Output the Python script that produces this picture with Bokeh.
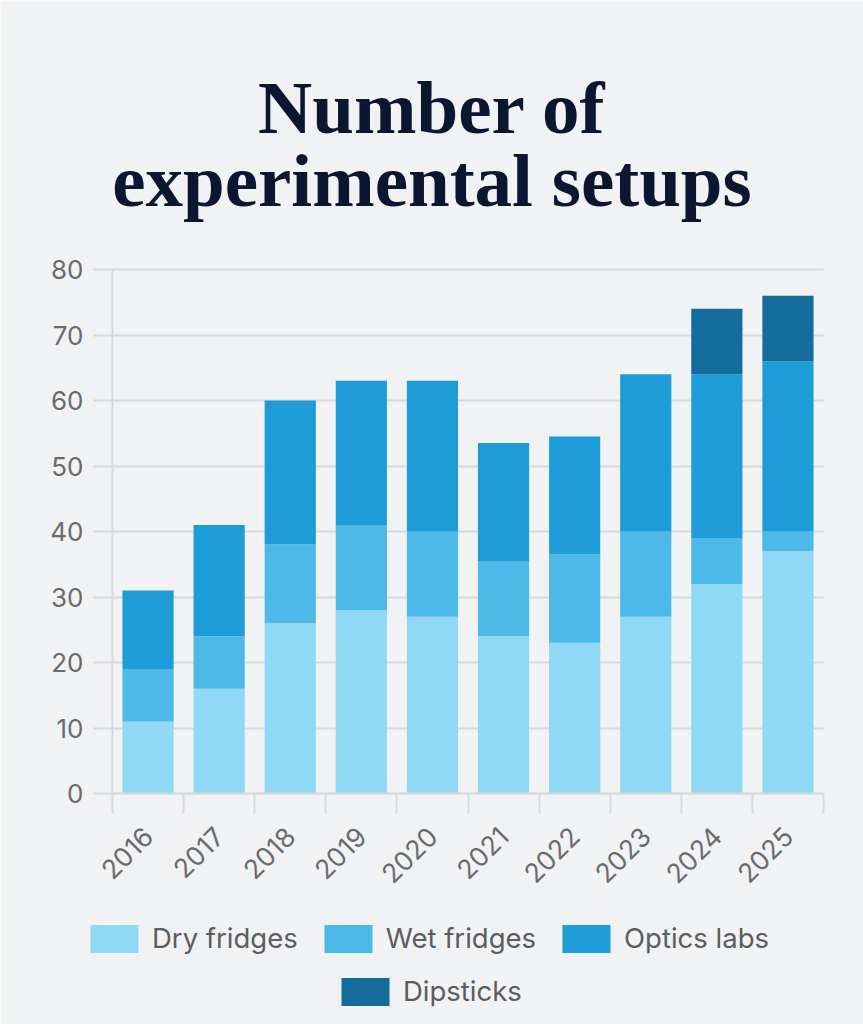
import math
from bokeh.plotting import figure
from bokeh.models import (ColumnDataSource, Range1d, FixedTicker, Label, Legend, LegendItem)
from bokeh.embed import file_html
from bokeh.resources import INLINE

years = ["2016", "2017", "2018", "2019", "2020", "2021", "2022", "2023", "2024", "2025"]
dry_fridges = [11, 16, 26, 28, 27, 24, 23, 27, 32, 37]
wet_fridges = [8, 8, 12, 13, 13, 11.5, 13.5, 13, 7, 3]
optics_labs = [12, 17, 22, 22, 23, 18, 18, 24, 25, 26]
dipsticks = [0, 0, 0, 0, 0, 0, 0, 0, 10, 10]
series_names = ["Dry fridges", "Wet fridges", "Optics labs", "Dipsticks"]
title_lines = ["Number of", "experimental setups"]
colors = ["#8fd8f6", "#4cb9e8", "#1e9cd8", "#136c9b"]
y_ticks = [0, 10, 20, 30, 40, 50, 60, 70, 80]

BG = "#f1f2f4"
GRID = "#d8d9dc"
LABEL = "#6a6b6d"
FONT = "Inter"
W, H = 863, 1024
# chart area in page pixels
PLOT_L, PLOT_R, PLOT_T, PLOT_B = 112, 823, 269, 793
YMAX = 80
n = len(years)

dx = (PLOT_R - PLOT_L) / n          # px per category
dy = (PLOT_B - PLOT_T) / YMAX       # px per unit
x_range = Range1d(-PLOT_L / dx, n + (W - PLOT_R) / dx)
y_range = Range1d(-(H - PLOT_B) / dy, YMAX + PLOT_T / dy)


def px_x(px):
    return (px - PLOT_L) / dx


def px_y(py):
    return (PLOT_B - py) / dy


xc = [i + 0.5 for i in range(n)]
source = ColumnDataSource(dict(x=xc, dry=dry_fridges, wet=wet_fridges,
                               optics=optics_labs, dip=dipsticks))

p = figure(width=W, height=H, x_range=x_range, y_range=y_range,
           output_backend="svg", toolbar_location=None, title=None, min_border=0)
p.background_fill_color = BG
p.border_fill_color = BG
p.outline_line_color = None
p.grid.visible = False

rs = p.vbar_stack(["dry", "wet", "optics", "dip"], x="x", width=0.72,
                  color=colors, line_width=0, source=source)

# y axis: pinned at x=0; its major ticks run across the chart as grid lines
ya = p.yaxis[0]
ya.fixed_location = 0
ya.bounds = (0, YMAX)
ya.level = "underlay"
ya.ticker = FixedTicker(ticks=y_ticks)
ya.axis_line_color = GRID
ya.axis_line_width = 2
ya.major_tick_line_color = GRID
ya.major_tick_line_width = 2
ya.major_tick_out = 19
ya.major_tick_in = PLOT_R - PLOT_L
ya.minor_tick_line_color = None
ya.major_label_standoff = 10
ya.major_label_text_font = FONT
ya.major_label_text_font_size = "26px"
ya.major_label_text_color = LABEL

# x axis: pinned at y=0; labels at category centres, minor ticks at boundaries
xa = p.xaxis[0]
xa.fixed_location = 0
xa.bounds = (0, n)
xa.ticker = FixedTicker(ticks=xc, minor_ticks=list(range(n + 1)))
xa.major_label_overrides = {v: y for v, y in zip(xc, years)}
xa.axis_line_color = GRID
xa.axis_line_width = 2
xa.major_tick_line_color = None
xa.major_tick_out = 0
xa.major_tick_in = 0
xa.minor_tick_line_color = GRID
xa.minor_tick_line_width = 2
xa.minor_tick_out = 20
xa.minor_tick_in = 0
xa.major_label_orientation = math.pi / 4
xa.major_label_standoff = 18
xa.major_label_text_font = FONT
xa.major_label_text_font_size = "26.5px"
xa.major_label_text_color = LABEL

# title
for txt, base in zip(title_lines, [107, 180]):
    p.add_layout(Label(x=px_x(W / 2), y=px_y(base), text=txt,
                       text_align="center", text_baseline="alphabetic",
                       text_font="Liberation Serif", text_font_style="bold",
                       text_font_size="75px", text_color="#0b1631"))

# legend: area glyphs are drawn inset by 10% of the glyph box
SW_W, SW_H = 48, 28
GW, GH = SW_W / 0.8, SW_H / 0.8
INX, INY = (GW - SW_W) / 2, (GH - SW_H) / 2


def make_legend(idx, loc):
    return Legend(items=[LegendItem(label=series_names[i], renderers=[rs[i]]) for i in idx],
                  orientation="horizontal", location=loc,
                  glyph_width=round(GW), glyph_height=round(GH),
                  label_standoff=round(14 - INX), spacing=round(26 - INX),
                  padding=0, margin=0, border_line_color=None,
                  background_fill_alpha=0, label_text_font=FONT,
                  label_text_font_size="27.5px", label_text_color="#5c5d5f",
                  label_height=round(GH))


p.add_layout(make_legend([0, 1, 2], (90 - INX, H - 952 - INY)), "center")
p.add_layout(make_legend([3], (341 - INX, H - 1005 - INY)), "center")

open("out.html", "w").write(file_html(p, INLINE))
